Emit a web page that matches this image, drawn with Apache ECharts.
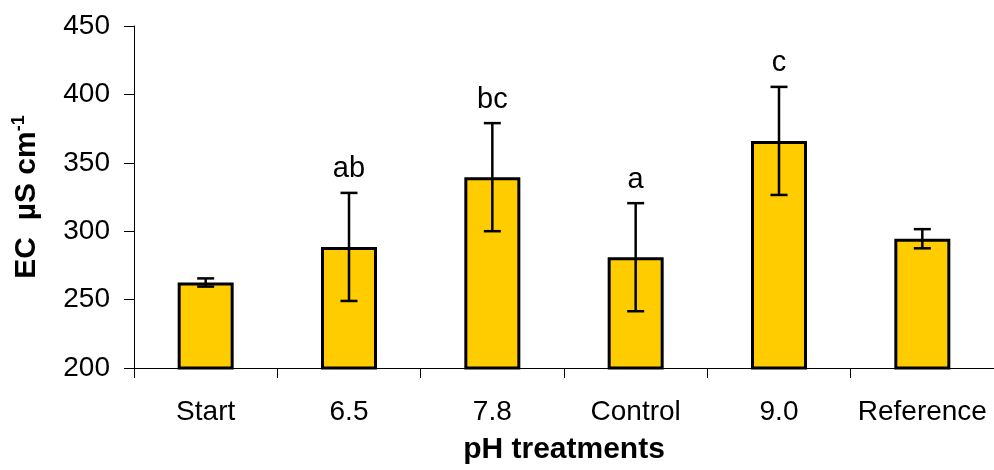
<!DOCTYPE html>
<html>
<head>
<meta charset="utf-8">
<script src="https://cdn.jsdelivr.net/npm/echarts@6/dist/echarts.min.js"></script>
<style>html,body{margin:0;padding:0;background:#fff}#c{width:994px;height:470px}</style>
</head>
<body>
<div id="c"></div>
<script>
const categories = ['Start', '6.5', '7.8', 'Control', '9.0', 'Reference'];
const means = [262.5, 288.5, 339.5, 281, 366, 294.5];
const errors = [3, 39.5, 39.5, 39.5, 39.5, 7];
const letters = ['', 'ab', 'bc', 'a', 'c', ''];
const yTicks = [200, 250, 300, 350, 400, 450];

const FONT = '"Liberation Sans", Arial, sans-serif';
const chart = echarts.init(document.getElementById('c'), null, {renderer: 'canvas'});

const errData = means.map((m, i) => [i, m - errors[i], m + errors[i]]);
const letterData = means.map((m, i) => [i, m + errors[i], letters[i]]);

chart.setOption({
  animation: false,
  backgroundColor: '#fff',
  grid: {left: 134, top: 26, width: 863, height: 349, containLabel: false},
  xAxis: {
    type: 'category',
    data: categories,
    boundaryGap: true,
    name: 'pH treatments',
    nameLocation: 'middle',
    nameGap: 67,
    nameTextStyle: {fontFamily: FONT, fontSize: 30, fontWeight: 'bold', color: '#000', verticalAlign: 'top'},
    axisLine: {show: true, lineStyle: {color: '#000', width: 1}},
    axisTick: {show: true, alignWithLabel: false, length: 10, inside: false, lineStyle: {color: '#000'}},
    axisLabel: {fontFamily: FONT, fontSize: 28, color: '#000', margin: 30, interval: 0},
    splitLine: {show: false}
  },
  yAxis: {
    type: 'value',
    min: yTicks[0],
    max: yTicks[yTicks.length - 1],
    interval: 50,
    name: '{t|EC  µS cm}{s|-1}',
    nameLocation: 'middle',
    nameGap: 92,
    nameRotate: 90,
    nameTextStyle: {
      rich: {
        t: {fontFamily: FONT, fontSize: 30, fontWeight: 'bold', color: '#000', verticalAlign: 'bottom', lineHeight: 32},
        s: {fontFamily: FONT, fontSize: 18, fontWeight: 'bold', color: '#000', verticalAlign: 'top', lineHeight: 32, padding: [0, 0, 16, 0]}
      }
    },
    axisLine: {show: true, lineStyle: {color: '#000', width: 1}},
    axisTick: {show: true, length: 10, inside: false, lineStyle: {color: '#000'}},
    axisLabel: {fontFamily: FONT, fontSize: 28, color: '#000', margin: 24},
    splitLine: {show: false}
  },
  series: [
    {
      type: 'bar',
      data: means,
      barWidth: 56,
      itemStyle: {color: '#FFCC00', borderColor: '#000', borderWidth: 3},
      z: 2
    },
    {
      type: 'custom',
      data: errData,
      z: 5,
      renderItem: function (params, api) {
        const x = api.coord([api.value(0), api.value(1)])[0];
        const yLo = api.coord([api.value(0), api.value(1)])[1];
        const yHi = api.coord([api.value(0), api.value(2)])[1];
        const hw = 8.5;
        const st = {stroke: '#000', lineWidth: 2.5};
        return {
          type: 'group',
          children: [
            {type: 'line', shape: {x1: x, y1: yHi, x2: x, y2: yLo}, style: st},
            {type: 'line', shape: {x1: x - hw, y1: yHi, x2: x + hw, y2: yHi}, style: st},
            {type: 'line', shape: {x1: x - hw, y1: yLo, x2: x + hw, y2: yLo}, style: st}
          ]
        };
      }
    },
    {
      type: 'scatter',
      data: letterData,
      symbolSize: 0,
      z: 6,
      itemStyle: {opacity: 1},
      label: {
        show: true,
        position: 'top',
        distance: 9,
        formatter: function (p) { return p.data[2]; },
        fontFamily: FONT,
        fontSize: 29,
        color: '#000',
        opacity: 1
      }
    }
  ]
});
</script>
</body>
</html>
